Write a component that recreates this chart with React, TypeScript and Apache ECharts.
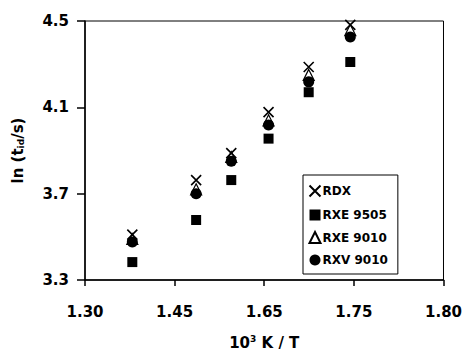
import React, { useEffect, useRef } from "react";
import * as echarts from "echarts";

const xValues = [1.366, 1.455, 1.504, 1.556, 1.612, 1.670];
const rdx = [3.51, 3.763, 3.888, 4.078, 4.287, 4.482];
const rxe9505 = [3.383, 3.578, 3.763, 3.955, 4.17, 4.31];
const rxe9010 = [3.49, 3.72, 3.87, 4.04, 4.25, 4.458];
const rxv9010 = [3.476, 3.70, 3.85, 4.018, 4.218, 4.426];
const xTickValues = [1.30, 1.425, 1.55, 1.675, 1.80];
const xTickLabels = ["1.30", "1.45", "1.65", "1.75", "1.80"];
const yTickValues = [3.3, 3.7, 4.1, 4.5];
const yTickLabels = ["3.3", "3.7", "4.1", "4.5"];
const seriesNames = ["RDX", "RXE 9505", "RXE 9010", "RXV 9010"];

const FONT = "DejaVu Sans";
const pair = (ys: number[]) => xValues.map((x, i) => [x, ys[i]]);

export default function App() {
  const ref = useRef<HTMLDivElement>(null);
  useEffect(() => {
    if (!ref.current) return;
    const chart = echarts.init(ref.current, null, { renderer: "svg" });
    const labelFor = (vals: number[], labels: string[]) => (v: number) => {
      let best = 0;
      vals.forEach((t, i) => {
        if (Math.abs(t - v) < Math.abs(vals[best] - v)) best = i;
      });
      return labels[best];
    };
    chart.setOption({
      animation: false,
      backgroundColor: "#fff",
      grid: {
        left: 85,
        right: 18,
        top: 21,
        bottom: 75,
        show: true,
        borderColor: "#000",
        borderWidth: 1,
      },
      xAxis: {
        type: "value",
        min: 1.3,
        max: 1.8,
        name: "10{sup|3} K / T",
        nameLocation: "middle",
        nameGap: 54,
        nameTextStyle: {
          fontFamily: FONT,
          fontWeight: "bold",
          fontSize: 15,
          color: "#000",
          rich: {
            sup: { fontFamily: FONT, fontWeight: "bold", fontSize: 9, verticalAlign: "top", padding: [0, 0, 8, 0], color: "#000" },
          },
        },
        axisLine: { lineStyle: { color: "#000", width: 1.5 } },
        axisTick: { show: true, customValues: xTickValues, length: 6, inside: false, lineStyle: { color: "#000", width: 1.5 } },
        axisLabel: {
          customValues: xTickValues,
          formatter: labelFor(xTickValues, xTickLabels),
          fontFamily: FONT,
          fontWeight: "bold",
          fontSize: 15,
          color: "#000",
          margin: 24,
        },
        splitLine: { show: false },
      },
      yAxis: {
        type: "value",
        min: 3.3,
        max: 4.5,
        name: "ln (t{sub|id}/s)",
        nameLocation: "middle",
        nameGap: 60,
        nameTextStyle: {
          fontFamily: FONT,
          fontWeight: "bold",
          fontSize: 15,
          color: "#000",
          rich: {
            sub: { fontFamily: FONT, fontWeight: "bold", fontSize: 9, verticalAlign: "bottom", padding: [6, 0, 0, 0], color: "#000" },
          },
        },
        axisLine: { show: true, lineStyle: { color: "#000", width: 1.5 } },
        axisTick: { show: true, customValues: yTickValues, length: 8, inside: false, lineStyle: { color: "#000", width: 1.5 } },
        axisLabel: {
          customValues: yTickValues,
          formatter: labelFor(yTickValues, yTickLabels),
          fontFamily: FONT,
          fontWeight: "bold",
          fontSize: 15,
          color: "#000",
          margin: 16,
        },
        splitLine: { show: false },
      },
      legend: {
        orient: "vertical",
        left: 303,
        top: 175,
        data: seriesNames,
        backgroundColor: "#fff",
        borderColor: "#000",
        borderWidth: 1,
        padding: [8, 10, 8, 4],
        itemGap: 10,
        itemWidth: 11,
        itemHeight: 11,
        textStyle: { fontFamily: FONT, fontWeight: "bold", fontSize: 12, color: "#000", padding: [0, 0, 0, -3] },
      },
      series: [
        {
          name: "RXE 9505",
          type: "scatter",
          data: pair(rxe9505),
          symbol: "rect",
          symbolSize: 10,
          z: 2,
          itemStyle: { color: "#000", opacity: 1 },
        },
        {
          name: "RXE 9010",
          type: "scatter",
          data: pair(rxe9010),
          symbol: "triangle",
          symbolSize: 11,
          z: 3,
          itemStyle: { color: "#fff", borderColor: "#000", borderWidth: 1.2, opacity: 1 },
        },
        {
          name: "RXV 9010",
          type: "scatter",
          data: pair(rxv9010),
          symbol: "circle",
          symbolSize: 11,
          z: 4,
          itemStyle: { color: "#000", opacity: 1 },
        },
        {
          name: "RDX",
          type: "scatter",
          data: pair(rdx),
          symbol: "path://M0,0L10,10M10,0L0,10",
          symbolSize: 10,
          z: 5,
          itemStyle: { color: "none", borderColor: "#000", borderWidth: 1.6, opacity: 1 },
        },
      ],
    });
    return () => chart.dispose();
  }, []);
  return <div ref={ref} style={{ width: 465, height: 355, position: "absolute", left: 0, top: 0 }} />;
}
